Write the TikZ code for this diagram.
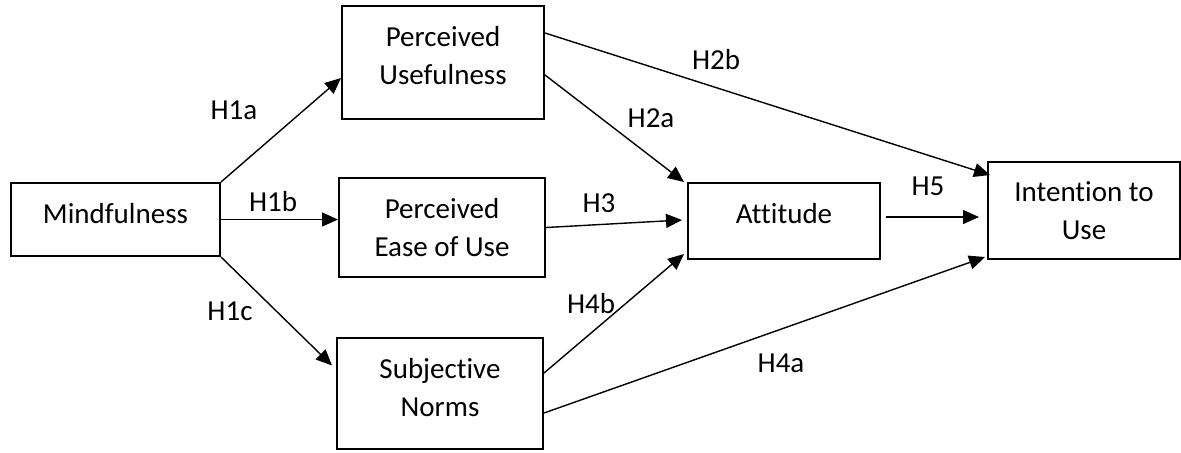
\documentclass[tikz,border=0pt]{standalone}
\usepackage{fontspec}
\setmainfont{Carlito}[Ligatures=NoCommon]
\usetikzlibrary{arrows.meta}
\begin{document}
\begin{tikzpicture}[x=0.5pt,y=-0.5pt,
  box/.style={draw, line width=1pt, inner sep=0pt},
  txt/.style={font=\fontsize{14.5}{19}\selectfont, align=center, inner sep=0pt},
  lbl/.style={font=\fontsize{14.5}{19}\selectfont, inner sep=0pt},
  arr/.style={line width=0.7pt, -{Triangle[length=8pt,width=7pt]}}]
\useasboundingbox (0,0) rectangle (1181,452);
% boxes
\node[box, minimum width=104.5pt, minimum height=36.5pt] (mind) at (115.5,219.5) {};
\node[txt] (mindt) at ([yshift=3pt]mind.center) {Mindfulness};
\node[box, minimum width=101pt, minimum height=56.5pt] (pu) at (443,62.5) {};
\node[txt] (put) at ([yshift=3.7pt]pu.center) {Perceived\\Usefulness};
\node[box, minimum width=103pt, minimum height=49.5pt] (peou) at (442,227.5) {};
\node[txt] (peout) at (peou.center) {Perceived\\Ease of Use};
\node[box, minimum width=103pt, minimum height=55.5pt] (sn) at (440,393.5) {};
\node[txt] (snt) at ([yshift=3pt]sn.center) {Subjective\\Norms};
\node[box, minimum width=96pt, minimum height=38pt] (att) at (784,221) {};
\node[txt] (attt) at ([yshift=3.5pt]att.center) {Attitude};
\node[box, minimum width=96pt, minimum height=48.5pt] (itu) at (1084,210.5) {};
\node[txt] (itut) at (itu.center) {Intention to\\Use};
% connectors
\draw[arr] (mind.north east) -- ([yshift=-7.75pt]pu.west);
\draw[arr] (mind.east) -- (mind.east -| peou.west);
\draw[arr] (mind.south east) -- ([xshift=-2pt,yshift=14pt]sn.west);
\draw[arr] ([yshift=14.75pt]pu.east) -- ([xshift=1.5pt,yshift=-7pt]itu.north west);
\draw[arr] ([yshift=-6.25pt]pu.east) -- ([xshift=-1.5pt]att.north west);
\draw[arr] (peou.east) -- ([xshift=-2.5pt,yshift=0.5pt]att.west);
\draw[arr] ([yshift=10.25pt]sn.east) -- ([xshift=-1.5pt,yshift=3pt]att.south west);
\draw[arr] ([yshift=-9.75pt]sn.east) -- ([xshift=-1pt,yshift=1.5pt]itu.south west);
\coordinate (h5s) at ([xshift=2.5pt,yshift=2pt]att.east);
\coordinate (h5x) at ([xshift=-4pt]itu.west);
\draw[arr] (h5s) -- (h5s -| h5x);
% labels
\node[lbl] (h1a) at (234,110) {H1a};
\node[lbl] (h1b) at (273,202) {H1b};
\node[lbl] (h1c) at (230,311) {H1c};
\node[lbl] (h2b) at (716,60) {H2b};
\node[lbl] (h2a) at (651,118) {H2a};
\node[lbl] (h3) at (599,203) {H3};
\node[lbl] (h4b) at (591,304) {H4b};
\node[lbl] (h4a) at (781,363) {H4a};
\node[lbl] (h5) at (928,186) {H5};
\end{tikzpicture}
\end{document}
